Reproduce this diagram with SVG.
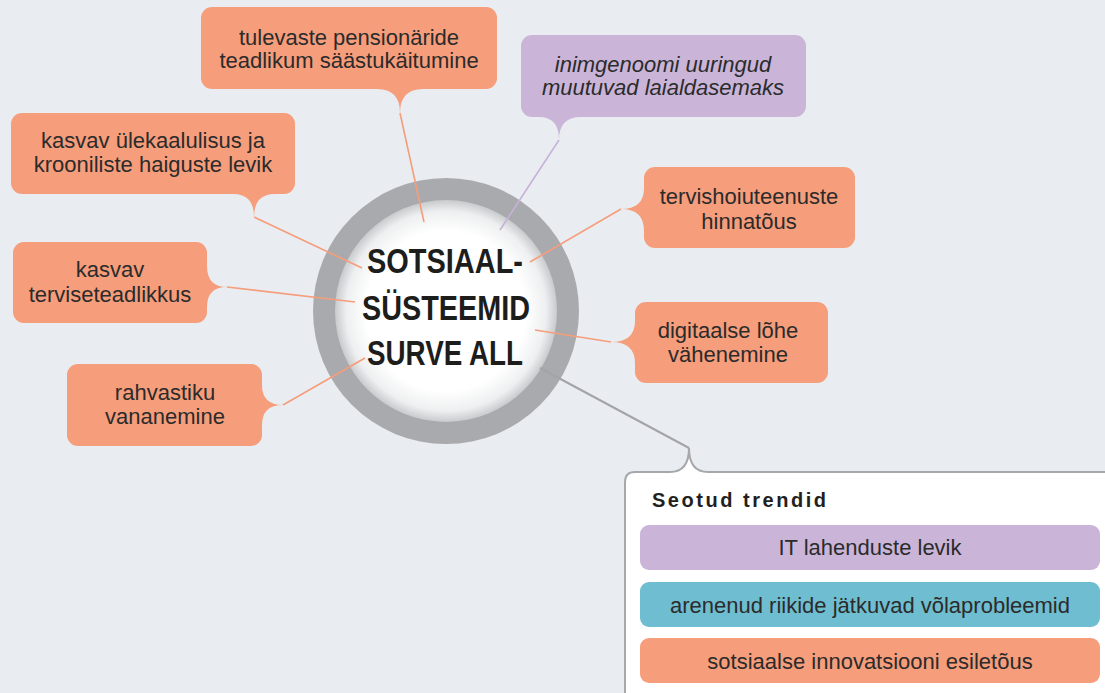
<svg xmlns="http://www.w3.org/2000/svg" width="1105" height="693" viewBox="0 0 1105 693">
<defs>
<radialGradient id="core" cx="50%" cy="50%" r="50%">
<stop offset="0" stop-color="#ffffff"/>
<stop offset="0.72" stop-color="#ffffff"/>
<stop offset="0.9" stop-color="#eeeff0"/>
<stop offset="1" stop-color="#c9cacc"/>
</radialGradient>
<style>
.bg{fill:#e9edf1}
.or{fill:#f69d7b}
.pu{fill:#cab5d9}
.te{fill:#6fbdd0}
.t{font-family:"Liberation Sans",Arial,sans-serif;font-size:22px;fill:#2b2b2b;text-anchor:middle}
.it{font-style:italic}
.c{font-family:"Liberation Sans",Arial,sans-serif;font-weight:bold;font-size:35px;fill:#1d1d1b;text-anchor:middle}
.h{font-family:"Liberation Sans",Arial,sans-serif;font-weight:bold;font-size:20px;fill:#231f20}
.lo{stroke:#f69d7b;stroke-width:1.6;fill:none}
.lp{stroke:#c5b3d6;stroke-width:1.6;fill:none}
.lg{stroke:#a3a4a8;stroke-width:2;fill:none}
</style>
</defs>
<rect class="bg" x="0" y="0" width="1105" height="693"/>

<g id="center">
<circle cx="446" cy="311" r="133" fill="#a9aaae"/>
<circle cx="446" cy="311" r="111" fill="url(#core)"/>
</g>

<g id="connectors">
<line class="lo" x1="400" y1="113" x2="424" y2="222"/>
<line class="lp" x1="559" y1="140" x2="500" y2="230"/>
<line class="lo" x1="254" y1="217" x2="362" y2="268"/>
<line class="lo" x1="227" y1="287" x2="355" y2="302"/>
<line class="lo" x1="283" y1="405" x2="365" y2="358"/>
<line class="lo" x1="621" y1="209" x2="530" y2="262"/>
<line class="lo" x1="611" y1="342" x2="535" y2="330"/>
<line class="lg" x1="689" y1="448" x2="540" y2="368"/>
</g>

<g id="center-text">
<text class="c" x="445" y="273" textLength="156" lengthAdjust="spacingAndGlyphs">SOTSIAAL-</text>
<text class="c" x="446" y="320" textLength="168" lengthAdjust="spacingAndGlyphs">SÜSTEEMID</text>
<text class="c" x="445" y="365" textLength="156" lengthAdjust="spacingAndGlyphs">SURVE ALL</text>
</g>

<g id="n-pension">
<rect class="or" x="201" y="7" width="296" height="82" rx="11"/>
<path class="or" d="M377,88 L377,89 Q400,89 400,113 Q400,89 423,89 L423,88 Z"/>
<text class="t" x="349" y="45">tulevaste pensionäride</text>
<text class="t" x="349" y="68">teadlikum säästukäitumine</text>
</g>

<g id="n-genoom">
<rect class="pu" x="521" y="35" width="285" height="82" rx="11"/>
<path class="pu" d="M539,116 L539,117 Q559,117 559,140 Q559,117 581,117 L581,116 Z"/>
<text class="t it" x="663" y="72">inimgenoomi uuringud</text>
<text class="t it" x="663" y="95">muutuvad laialdasemaks</text>
</g>

<g id="n-ylekaal">
<rect class="or" x="11" y="113" width="284" height="81" rx="11"/>
<path class="or" d="M233,193 L233,194 Q254,194 254,217 Q254,194 275,194 L275,193 Z"/>
<text class="t" x="153" y="148">kasvav ülekaalulisus ja</text>
<text class="t" x="153" y="172">krooniliste haiguste levik</text>
</g>

<g id="n-tervis">
<rect class="or" x="13" y="242" width="194" height="81" rx="11"/>
<path class="or" d="M206,266 L207,266 Q207,287 227,287 Q207,287 207,307 L206,307 Z"/>
<text class="t" x="110" y="277">kasvav</text>
<text class="t" x="110" y="302">terviseteadlikkus</text>
</g>

<g id="n-vanane">
<rect class="or" x="67" y="364" width="195" height="82" rx="11"/>
<path class="or" d="M261,385 L262,385 Q262,405 283,405 Q262,405 262,425 L261,425 Z"/>
<text class="t" x="165" y="400">rahvastiku</text>
<text class="t" x="165" y="424">vananemine</text>
</g>

<g id="n-hind">
<rect class="or" x="644" y="167" width="211" height="81" rx="11"/>
<path class="or" d="M645,188 L644,188 Q644,209 621,209 Q644,209 644,231 L645,231 Z"/>
<text class="t" x="749" y="204">tervishoiuteenuste</text>
<text class="t" x="749" y="229">hinnatõus</text>
</g>

<g id="n-digi">
<rect class="or" x="635" y="302" width="193" height="81" rx="11"/>
<path class="or" d="M636,321 L635,321 Q635,342 611,342 Q635,342 635,363 L636,363 Z"/>
<text class="t" x="728" y="338">digitaalse lõhe</text>
<text class="t" x="728" y="362">vähenemine</text>
</g>

<g id="n-seotud">
<path d="M625,700 L625,482 Q625,472 635,472 L670,472 Q689,472 689,448 Q689,472 708,472 L1115,472 L1115,700 Z" fill="#ffffff" stroke="#a7a8ab" stroke-width="2"/>
<text class="h" x="652" y="507" textLength="174" lengthAdjust="spacing">Seotud trendid</text>
<rect class="pu" x="640" y="525" width="460" height="45" rx="9"/>
<text class="t" x="870" y="555">IT lahenduste levik</text>
<rect class="te" x="640" y="582" width="460" height="45" rx="9"/>
<text class="t" x="870" y="613">arenenud riikide jätkuvad võlaprobleemid</text>
<rect class="or" x="640" y="638" width="460" height="45" rx="9"/>
<text class="t" x="870" y="669">sotsiaalse innovatsiooni esiletõus</text>
</g>
</svg>
